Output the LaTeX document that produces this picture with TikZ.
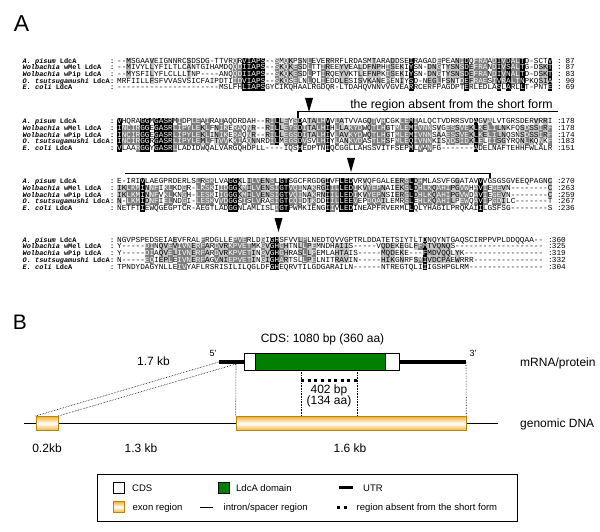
\documentclass[tikz,border=0pt]{standalone}
\usepackage{fontspec}
\setmainfont{Liberation Sans}
\setmonofont{Liberation Mono}
\usetikzlibrary{positioning}

\definecolor{shLight}{HTML}{C4C4C4}
\definecolor{shDark}{HTML}{7E7E7E}
\definecolor{ldcGreen}{HTML}{008000}
\definecolor{exonGold}{HTML}{F0B030}
\definecolor{exonEdge}{HTML}{B8860B}

\setlength{\fboxsep}{0pt}
\newlength{\resw}\setlength{\resw}{4.63pt}
\newcommand{\resstrut}{\rule[-1.15pt]{0pt}{6.7pt}}
\newcommand{\rowno}{1}
\newcommand{\shlvl}{0}
% one residue: 0 plain, 1 light grey, 2 dark grey, 3 black
\newcommand{\resbox}[2]{%
  \ifcase#1\relax
    \makebox[\resw]{\resstrut#2}%
  \or\colorbox{shLight}{\makebox[\resw]{\resstrut#2}}%
  \or\colorbox{shDark}{\makebox[\resw]{\resstrut\textcolor{white}{#2}}}%
  \or\colorbox{black}{\makebox[\resw]{\resstrut\textcolor{white}{#2}}}%
  \fi}
% column code: K black (all), D dark rows 1-4, d dark rows 2-4,
% E dark rows 2-5, L light rows 1-3, l light rows 2-4, G light rows 1-4
\newcommand{\shres}[2]{%
  \def\shlvl{0}%
  \if#1K\def\shlvl{3}\fi
  \if#1D\ifnum\rowno<5 \def\shlvl{2}\fi\fi
  \if#1d\ifnum\rowno>1 \ifnum\rowno<5 \def\shlvl{2}\fi\fi\fi
  \if#1E\ifnum\rowno>1 \def\shlvl{2}\fi\fi
  \if#1L\ifnum\rowno<4 \def\shlvl{1}\fi\fi
  \if#1l\ifnum\rowno>1 \ifnum\rowno<5 \def\shlvl{1}\fi\fi\fi
  \if#1G\ifnum\rowno<5 \def\shlvl{1}\fi\fi
  \if#2-\def\shlvl{0}\fi
  \resbox{\shlvl}{#2}}
\def\resloop#1#2\relax#3#4\relax{%
  \shres{#3}{#1}%
  \ifx\relax#2\relax\else\resloop#2\relax#4\relax\fi}

\newcommand{\taxname}[1]{\ifcase#1\or\textit{A. pisum} LdcA\or
  \textit{Wolbachia} wMel LdcA\or\textit{Wolbachia} wPip LdcA\or
  \textit{O. tsutsugamushi} LdcA\or\textit{E. coli} LdcA\fi}

% block, row, block top y, sequence, column code, colon x, count
\newcommand{\alnrow}[7]{%
  \pgfmathsetmacro{\rowy}{#3+(#2-1)*6.7+2.2}%
  \node[seqname] (nm#1#2) at (22.5,\rowy) {\taxname{#2}};
  \node[seqname] (nc#1#2) at (110,\rowy) {:};
  \node[seqtext] (sq#1#2) at (117,\rowy)
    {\def\rowno{#2}\edef\tmprow{\noexpand\resloop#4\relax#5\relax}\tmprow};
  \node[seqtext] (cl#1#2) at (#6,\rowy) {:};
  \node[seqnum] (ct#1#2) at (#6+18,\rowy) {#7};
}
\newcommand{\cutmark}[2]{\fill (#1-4,#2) -- (#1+4,#2) -- (#1,#2+14) -- cycle;}

\newcommand{\codeA}{00L0000G0M 00000L0000 00000DdKKK KK00DlDLdL 0D00dL00ll 00l0lLl0dL 0l0K000llD 0llLDKlDDD 0DKDKDDK00 0llK}
\newcommand{\codeB}{KdddEKK0KK KKEDddDDlD 0lDd0dd0dl 00LDKLDdDK dLLDDK0DLl ddd0LDdDl0 dDDKDEdE0l 0ddlddlKdL Ddll000ldl LdLd}
\newcommand{\codeC}{lldddKldd0 dd00d00DdD D0ddKKLdLD DLLDEKKddd 0ld0LKEdKK Kd0Ldddl00 LLDKLDddld ddlLdd0dKd 0ddl000000 000L}
\newcommand{\codeD}{000000dd0l ldLEEdldDl 0dlldDDDdl 0DlKKdl00L Dld0000lll 0000000lll 0l00ldKlll ll0l000000 0000000000 00}

\begin{document}
\begin{tikzpicture}[x=1pt, y=-1pt,
  seqtext/.style={anchor=base west, inner sep=0pt, font=\ttfamily\fontsize{7.7}{7.7}\selectfont},
  seqname/.style={anchor=base west, inner sep=0pt, font=\ttfamily\bfseries\fontsize{6.9}{6.9}\selectfont},
  seqnum/.style={anchor=base east, inner sep=0pt, font=\ttfamily\fontsize{7.7}{7.7}\selectfont},
  panel/.style={inner sep=0pt, font=\fontsize{23}{23}\selectfont},
  lbl/.style={inner sep=0pt, font=\fontsize{12}{12}\selectfont},
  leg/.style={anchor=base west, inner sep=0pt, font=\fontsize{9.5}{9.5}\selectfont},
  regionline/.style={line width=1.5pt},
  utr/.style={line width=3.3pt},
  dotline/.style={densely dotted, line width=0.6pt},
  shortline/.style={line width=3pt, dash pattern=on 3pt off 3.625pt},
  cdsbox/.style={draw, line width=0.8pt, fill=white, inner sep=0pt},
  ldcbox/.style={draw, line width=0.8pt, fill=ldcGreen, inner sep=0pt},
  exon/.style={draw=exonEdge, line width=0.6pt, top color=exonGold,
               bottom color=exonGold, middle color=white, inner sep=0pt},
]
  \useasboundingbox (0,0) rectangle (600,532);

  % ---- A: alignment ----
  \node[panel] (pA) at (21.5,23.5) {A};

  \alnrow{a}{1}{61}{--MSGAAVEI GNNRCSDSDG -TTVRQRVIA PS--SMQKPS NLEVERRRFL RDASMTARAD DSEIRAGADE PEANIDQFRA ADIVDALTD- SCTV}{\codeA}{557}{87}
  \alnrow{a}{2}{61}{--MIVYLLYF ILTLCANTGI HAMDQQDIIA PS--SKQKES DLTTIREEYV EALDFNPHIS EKIYSN-DNG TYSNSDEFRA NDIVSALTG- DSKT}{\codeA}{557}{87}
  \alnrow{a}{3}{61}{--MYSFILYF LCLLLTNP-- --ANQQDIIA PS--SKQKES DLPTIRQEYV KTLEFNPKIS EKIYSN-DNG TYSNSDEFRA NDIVNALTD- DSKT}{\codeA}{557}{83}
  \alnrow{a}{4}{61}{MRFIILLFSF VVASVSICFA IPDTIIDVIA PS--SKQSEL NLQLIEDDLE SISVKANEPE NIYSD-NEGL FSNTDEFRAE SIVRALTNPK QSIA}{\codeA}{557}{90}
  \alnrow{a}{5}{61}{---------- ---------- --MSLFHLIA PSGYCIKQHA ALRGDQR-LT DAHQVNNVVG VEARRCERFP AGDPTERLED LASLARLLT- PNTE}{\codeA}{557}{69}

  \alnrow{b}{1}{121.5}{VHQRAGGMGA SRMIDPLEAI RAIAQDRDAH --RILLEYSD ATALHVVLAT VVAGQTVHCG KLEMIALQCT VDRRSVDAGV ALVTGRSDER VRRI}{\codeB}{557}{178}
  \alnrow{b}{2}{121.5}{INCIRGGEGA SRLIPYLEKL FNIKERAQNR --RILLEYSD ITALHIHLLA KYDWQTLHGT MLEMIVNNSV GESSVEKLKE LILNKFQSDS SIRF}{\codeB}{557}{178}
  \alnrow{b}{3}{121.5}{INCIRGGEGA SRLIPYLEKL INIKERAQNR --RILLEGSD ITALHIVLAV KYDWQTLHGT MLEMIVNNSA AESSVEKLKE LILNQSNSDS SIRF}{\codeB}{557}{174}
  \alnrow{b}{4}{121.5}{INCIRGGRGA SRLIPYLEML FTVVKKIAQN NRDILMEGSD VSVLHIYLAN KVDASTLHSF MLEQIVNNKI SQDSIDKLEL IISGYRQNLK QNKF}{\codeB}{557}{183}
  \alnrow{b}{5}{121.5}{VLAARGGYGA SRLLADIDWQ ALVARGQHDP LL----IQSH EDPTNIQCGG LLAHSSVITF SEPMLVANFG -------ADE LNAFTEHHFW LALR}{\codeB}{557}{151}

  \alnrow{c}{1}{181.5}{E-IRIVLAEG PRDERLSLRS KLVAGGKLIL VENSLGTSGC FRGDGIVFLE DVRVQFGALE ERSLDHMLAS VFGGATAVVV GSGSGVEEQP AGNC}{\codeC}{557}{270}
  \alnrow{c}{2}{181.5}{IKLKMINNFI KLKDGR-LKS KIIDGGKMIL VENSIGTVQI NAKRGIILLE DIKVYEPNAI EKSLDHLKQA HIPGVWHAVI EGEVN----- ---C}{\codeC}{557}{263}
  \alnrow{c}{3}{181.5}{IKLKMINNFV KLKNGH-LES KIIGGGKMIL VENSIGTVQI NAKRNIILLE DIKVYEPNSI ERSLDHLKQA HIPGVWDAVI EGEVN----- ---C}{\codeC}{557}{259}
  \alnrow{c}{4}{181.5}{N-LKMIDNFI ELNDGI-LES KVVDGGSISL VRASIGTCQI DTKDDIILLE EVEPDQAILE MRSLEHLKQA HILPEWQAVI PGDILC---- ---T}{\codeC}{557}{267}
  \alnrow{c}{5}{181.5}{NETFTIEWQG EGPTCR-AEG TLADGGNLAM LISLIGTPWM KIENGIIVLE DINEAPFRVE RMLLQLYHAG ILPRQKAIIL GSFSG----- ---S}{\codeC}{557}{236}

  \alnrow{d}{1}{240}{NGVPSPEDSE IAEVFRALFR DGLLEPVERL DGIGHSFVVL PLNEDTQVVG PTRLDDATET SIYTLTDNQY NTGAQSCIRP PVPLDDQQAA --}{\codeD}{548}{360}
  \alnrow{d}{2}{240}{Y-----DINQ VEVIVNERFA RDVRKPVETM KGVGHGHTNL LPEMNDHAII S-----VQDE KEGLFFMTVQ NQS------- ---------- --}{\codeD}{548}{325}
  \alnrow{d}{3}{240}{Y-----DIAQ VELIVNERFA RDVRKPVETI NGVGHGHRAS LLPEMLAHTA IS-----MQD EKE---FMDV QQLYK----- ---------- --}{\codeD}{548}{319}
  \alnrow{d}{4}{240}{N-----EQIE PLEIVNERFA GVNIEPVETI NGIGHARTSL LPELNITRAV IN-----HIK GNRFSMIVDC PAEWRRR--- ---------- --}{\codeD}{548}{332}
  \alnrow{d}{5}{240}{TPNDYDAGYN LLEIVYAFLR SRISILILQG LDFGHEQRVT ILGDGARAIL N------NTR EGTQLIIIGS HPGLRM---- ---------- --}{\codeD}{548}{304}

  % splice marks and the missing region
  \cutmark{309}{98}
  \cutmark{351}{158}
  \cutmark{278.5}{218}
  \node[anchor=base, inner sep=0pt, font=\fontsize{12.3}{12.3}\selectfont] (absent)
    at (451.5,108.5) {the region absent from the short form};
  \draw[regionline] (298,118) -- (298,111.7) -- (558,111.7);
  \draw[regionline] (125,173.3) -- (490,173.3) -- (490,178.2);

  % ---- B: gene structure ----
  \node[panel, font=\fontsize{21}{21}\selectfont] (pB) at (20,322.5) {B};

  \node[lbl] (cdslbl) at (322.5,339) {CDS: 1080 bp (360 aa)};
  \node[inner sep=0pt, font=\fontsize{9}{9}\selectfont] (p5) at (213,353) {5'};
  \node[inner sep=0pt, font=\fontsize{9}{9}\selectfont] (p3) at (473,353) {3'};
  \node[lbl] (kb17) at (153.5,361.5) {1.7 kb};
  \node[lbl, anchor=base west] (mrna) at (520,366.3) {mRNA/protein};

  \coordinate (utr5) at (219,362);
  \coordinate (utr3) at (466,362);
  \draw[utr] (utr5) -- (utr3);
  \node[cdsbox, minimum width=155pt, minimum height=16.5pt] (cds) at (321.5,362) {};
  \node[ldcbox, minimum width=130pt, minimum height=16.5pt] (ldc) at (320.5,362) {};

  \coordinate (gl) at (24,423.5);
  \coordinate (gr) at (498,423.5);
  \draw[line width=0.8pt] (gl) -- (gr);
  \node[exon, minimum width=22pt, minimum height=14.5pt] (ex1) at (47,423.5) {};
  \node[exon, minimum width=230pt, minimum height=14.5pt] (ex2) at (351,423.5) {};
  \node[lbl, anchor=base west] (gdna) at (520,427.8) {genomic DNA};

  \coordinate (cdsL) at (236,364);
  \coordinate (cut1) at (301,370.25);
  \coordinate (cut2) at (357,370.25);
  \draw[dotline] (ex1.north west) -- (utr5);
  \draw[dotline] (ex1.north east) -- (cdsL) -- (ex2.north west);
  \draw[dotline] (cut1) -- (cut1 |- ex2.north);
  \draw[dotline] (cut2) -- (cut2 |- ex2.north);
  \draw[dotline] (utr3) -- (ex2.north east);

  \coordinate (sf1) at (301,380);
  \coordinate (sf2) at (357,380);
  \draw[shortline] (sf1) -- (sf2);
  \node[lbl] (bp402) at (329,390) {402 bp};
  \node[lbl] (aa134) at (329,401.5) {(134 aa)};

  \node[lbl] (kb02) at (47,448) {0.2kb};
  \node[lbl] (kb13) at (141,448) {1.3 kb};
  \node[lbl] (kb16) at (350,448) {1.6 kb};

  % legend
  \node[draw, line width=0.8pt, minimum width=419.5pt, minimum height=47pt,
        inner sep=0pt] (legend) at (307.25,497.5) {};
  \node[cdsbox, minimum size=11pt] (lcds) at (118.75,487.7) {};
  \node[leg] (tcds) at (132,491.1) {CDS};
  \node[ldcbox, minimum size=11pt] (lldc) at (224.25,487.7) {};
  \node[leg] (tldc) at (236,491.1) {LdcA domain};
  \draw[utr] (339,487.7) -- (353,487.7);
  \node[leg] (tutr) at (363,491.1) {UTR};
  \node[exon, minimum size=11pt] (lexon) at (118.75,507) {};
  \node[leg] (texon) at (132.5,510.4) {exon region};
  \draw[line width=0.8pt] (200,507) -- (213,507);
  \node[leg] (tintron) at (223.5,510.4) {intron/spacer region};
  \draw[shortline] (337,507) -- (346.6,507);
  \node[leg] (tshort) at (356.5,510.4) {region absent from the short form};
\end{tikzpicture}
\end{document}
